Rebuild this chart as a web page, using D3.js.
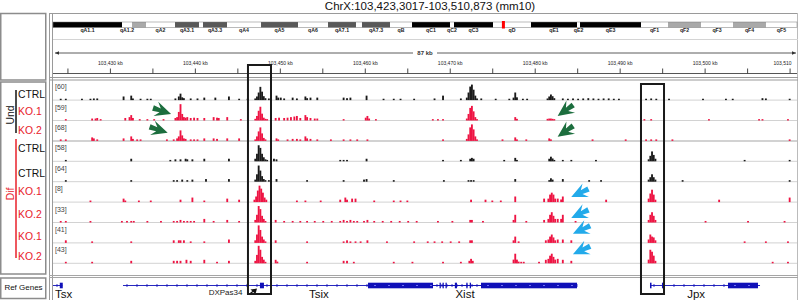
<!DOCTYPE html>
<html><head><meta charset="utf-8">
<script src="https://cdn.jsdelivr.net/npm/d3@7"></script>
<style>body{margin:0;background:#fff}svg{font-family:"Liberation Sans",Arial,sans-serif;display:block}</style>
</head><body><svg id="c" width="800" height="300"></svg>
<script>
// ---------------- DATA ----------------
const title = "ChrX:103,423,3017-103,510,873 (mm10)";
const viewStartKb = 103423.301, viewEndKb = 103510.873;
const spanLabel = "87 kb";
const rulerMajorKb = [103430,103440,103450,103460,103470,103480,103490,103500,103510];
const rulerMinorKb = [103425,103435,103445,103455,103465,103475,103485,103495,103505];

const chromLengthMb = 171.03;
const bandNames  = ["qA1.1","qA1.2","qA1.3","qA2","qA3.1","qA3.2","qA3.3","qA4","qA5","qA6","qA7.1","qA7.2","qA7.3","qB","qC1","qC2","qC3","qD","qE1","qE2","qE3","qF1","qF2","qF3","qF4","qF5"];
const bandStartMb= [0,15.86,18.16,21.38,28.05,33.56,34.48,40.0,47.82,56.32,63.22,69.65,71.03,77.47,82.53,91.26,92.18,101.15,109.88,120.46,121.15,135.17,141.38,148.96,156.32,163.9];
const bandEndMb  = [15.86,18.16,21.38,28.05,33.56,34.48,40.0,47.82,56.32,63.22,69.65,71.03,77.47,82.53,91.26,92.18,101.15,109.88,120.46,121.15,135.17,141.38,148.96,156.32,163.9,171.03];
const bandStain  = ["gpos100","gneg","gpos33","gneg","gpos75","gneg","gpos75","gneg","gpos75","gneg","gpos75","gneg","gpos75","gneg","gpos100","gneg","gpos100","gneg","gpos100","gneg","gpos100","gneg","gpos33","gneg","gpos33","gneg"];
const bandLabeled= [1,1,0,1,1,0,1,1,1,1,1,0,1,1,1,1,1,1,1,1,1,1,1,1,1,1];

const trackNames = ["CTRL","KO.1","KO.2","CTRL","CTRL","KO.1","KO.2","KO.1","KO.2"];
const trackCondition = ["CTRL","KO","KO","CTRL","CTRL","KO","KO","KO","KO"];
const trackMax = [60,59,68,58,64,8,33,41,43];
const groups = [{name:"Und", first:0, last:2, cond:"CTRL"}, {name:"Dif", first:3, last:8, cond:"KO"}];

// signal bins: [position kb, value]
const sigUndCtrl = [[103424.1,3],[103424.7,3],[103426.6,3],[103427.6,3],[103428.0,4],[103428.4,4],[103431.5,11],[103432.4,14],[103432.6,4],[103433.5,3],[103434.3,3],[103434.7,3],[103437.6,4],[103438.0,11],[103438.2,21],[103438.4,8],[103438.6,5],[103439.4,4],[103440.2,4],[103441.0,7],[103442.3,7],[103443.9,11],[103445.1,3],[103446.1,3],
 [103447.0,4],[103447.2,11],[103447.4,25],[103447.6,45],[103447.8,28],[103448.0,12],[103448.2,5],
 [103448.6,4],[103449.5,14],[103449.7,7],[103450.0,7],[103450.4,4],[103451.4,7],[103451.9,4],[103452.9,11],[103453.1,5],[103453.5,7],[103454.3,7],[103457.4,7],[103457.8,5],[103458.2,7],[103460.1,14],[103462.1,3],[103463.3,3],[103464.1,3],[103465.7,3],
 [103468.1,4],[103469.1,14],[103471.2,4],[103471.9,7],[103472.1,25],[103472.3,46],[103472.5,53],[103472.7,35],[103472.9,14],[103473.1,4],[103473.6,4],[103475.3,3],[103476.9,3],
 [103477.4,7],[103477.6,25],[103477.8,8],[103478.5,3],[103479.0,3],[103481.4,4],[103481.6,11],[103481.8,18],[103482.0,12],[103482.2,5],
 [103483.2,4],[103483.8,3],[103484.4,4],[103485.0,3],[103485.6,4],[103486.2,5],[103486.8,4],[103487.4,3],[103488.0,4],[103488.6,4],[103489.2,3],[103489.8,3],
 [103493.0,3],[103493.6,4],[103494.2,3],[103495.7,3],[103499.7,3],[103502.4,3],[103503.2,3],[103506.7,5],[103507.1,4],[103509.9,3]];
const sigUndKo1 = [[103424.7,3],[103427.8,5],[103428.2,5],[103428.4,7],[103428.8,3],[103431.7,7],[103432.2,10],[103432.4,17],[103432.6,7],[103433.4,3],[103434.3,3],[103435.1,3],[103436.2,3],
 [103437.6,7],[103437.8,10],[103438.0,28],[103438.2,55],[103438.4,21],[103438.6,10],[103438.8,8],[103439.0,10],[103439.4,7],[103439.8,8],[103440.2,7],[103441.0,7],[103442.1,10],[103442.5,8],[103442.7,7],[103443.7,10],[103445.3,3],
 [103447.0,4],[103447.2,14],[103447.4,32],[103447.6,46],[103447.8,22],[103448.0,8],[103448.2,4],[103448.4,3],
 [103449.4,7],[103449.8,8],[103450.4,7],[103450.8,8],[103451.2,10],[103451.6,12],[103451.9,14],[103452.3,7],[103452.9,17],[103453.1,10],[103453.5,7],[103454.0,5],[103454.3,5],[103457.4,3],[103460.0,8],[103460.2,14],[103460.4,5],[103461.2,3],
 [103467.9,3],[103468.5,3],[103469.1,3],[103471.9,5],[103472.1,21],[103472.3,42],[103472.5,49],[103472.7,30],[103472.9,10],[103473.1,3],
 [103477.6,10],[103477.8,4],[103481.4,4],[103481.6,5],[103481.8,5],[103482.0,4],[103482.2,3],[103492.8,3],[103493.6,3],[103500.4,3],[103506.3,3],[103506.7,3],[103509.7,3]];
const sigUndKo2 = [[103424.1,4],[103424.7,4],[103427.8,12],[103428.0,8],[103428.4,4],[103431.5,8],[103432.4,16],[103432.6,6],[103433.1,4],[103433.5,4],[103436.6,4],[103437.4,4],[103437.8,8],[103438.0,16],[103438.2,40],[103438.4,20],[103438.6,8],[103438.8,6],[103439.4,4],[103439.8,4],[103440.2,4],[103441.0,8],[103442.1,8],[103442.5,6],[103443.7,8],[103445.1,8],
 [103447.0,4],[103447.2,16],[103447.4,36],[103447.6,52],[103447.8,28],[103448.0,10],[103448.2,4],
 [103449.5,8],[103449.7,4],[103450.8,4],[103451.4,6],[103451.9,6],[103452.3,4],[103452.9,16],[103453.1,8],[103453.5,6],[103454.3,4],[103455.9,4],[103457.4,4],[103458.2,4],[103459.0,4],[103460.2,4],
 [103469.1,4],[103471.9,6],[103472.1,24],[103472.3,52],[103472.5,64],[103472.7,44],[103472.9,16],[103473.1,4],
 [103476.1,4],[103477.6,12],[103477.8,4],[103478.9,4],[103481.6,8],[103481.8,4],[103486.7,4],[103490.6,4],[103493.0,4],[103493.6,4],[103494.2,4],[103496.1,4],[103509.9,4]];
const sigDifCtrlA = [[103424.7,3],[103432.4,7],[103437.0,3],[103437.6,5],[103438.2,5],[103438.8,7],[103439.0,5],[103439.6,5],[103441.0,7],[103443.9,7],
 [103447.0,7],[103447.2,24],[103447.4,53],[103447.6,44],[103447.8,24],[103448.0,12],[103448.2,5],[103448.4,3],
 [103449.2,7],[103449.5,5],[103457.0,3],[103457.4,3],[103457.8,3],[103460.1,7],
 [103469.1,3],[103471.2,3],[103472.3,7],[103472.5,10],[103472.7,7],[103476.3,3],[103477.6,10],[103477.8,3],[103481.6,7],[103481.8,14],[103482.0,8],[103482.2,3],[103483.2,3],[103484.2,3],[103487.1,3],
 [103493.3,5],[103493.5,17],[103493.7,32],[103493.9,20],[103494.1,7],[103504.6,3],[103509.9,3]];
const sigDifCtrlB = [[103424.7,4],[103432.4,4],[103437.4,4],[103437.8,4],[103438.4,6],[103439.0,4],[103439.6,6],[103441.2,8],[103443.9,8],
 [103447.0,6],[103447.2,26],[103447.4,59],[103447.6,40],[103447.8,19],[103448.0,8],[103448.2,4],
 [103448.6,4],[103449.5,8],[103453.1,4],[103457.4,4],[103459.8,6],[103460.1,8],[103463.3,4],
 [103469.2,4],[103472.1,4],[103472.4,4],[103472.7,4],[103477.6,8],[103481.6,4],[103481.8,11],[103482.0,6],[103483.2,8],[103486.3,4],[103487.7,4],
 [103493.3,6],[103493.5,15],[103493.7,26],[103493.9,15],[103494.1,6],[103497.3,4],[103509.9,4]];
const sigDifKo1A = [[103427.6,0.5],[103431.5,1.4],[103431.7,0.5],[103433.3,0.5],[103434.7,0.5],[103438.2,0.9],[103439.6,1.9],[103441.0,0.5],[103443.7,1.4],[103445.1,0.9],
 [103446.9,0.9],[103447.1,2.4],[103447.3,5.2],[103447.5,7.5],[103447.7,6.1],[103447.9,4.2],[103448.1,1.9],[103448.3,0.9],
 [103451.9,0.5],[103452.9,0.5],[103454.7,0.5],[103457.0,0.9],[103457.6,1.9],[103457.8,0.9],[103458.4,1.4],[103458.8,1.4],[103461.0,0.5],[103463.3,0.5],[103464.1,0.5],[103464.9,0.5],
 [103472.4,0.9],[103474.1,0.9],[103474.9,0.5],[103475.9,0.5],[103477.6,2.4],[103481.0,1.4],
 [103481.5,1.4],[103481.7,3.3],[103481.9,4.2],[103482.1,3.3],[103482.3,1.4],[103482.6,1.4],[103483.0,1.0],[103483.2,2.4],[103488.3,0.9],
 [103493.3,1.4],[103493.5,3.8],[103493.7,5.6],[103493.9,3.3],[103494.1,0.9],[103501.6,0.9],[103509.9,1.9]];
const sigDifKo2A = [[103424.1,2],[103424.7,2],[103427.6,2],[103431.3,2],[103431.9,2],[103432.4,2],[103432.7,2],[103434.3,2],[103435.9,2],[103437.4,2],[103437.8,2],[103438.2,4],[103438.6,2],[103439.0,2],[103439.4,2],[103439.8,2],[103441.0,6],[103442.1,2],[103443.7,4],[103445.1,2],
 [103447.0,4],[103447.2,14],[103447.4,31],[103447.6,25],[103447.8,12],[103448.0,6],[103448.2,2],
 [103449.4,4],[103450.4,2],[103451.4,2],[103452.3,2],[103453.1,2],[103454.0,2],[103455.0,2],[103456.0,2],[103457.0,2],[103457.4,4],[103457.8,2],[103458.2,4],[103458.6,2],[103459.0,2],[103459.8,2],[103460.2,4],[103461.0,2],[103462.0,2],[103463.0,2],[103464.0,2],[103465.0,2],[103466.0,2],
 [103468.5,2],[103470.2,2],[103472.3,4],[103472.5,4],[103473.8,2],[103477.4,4],[103477.6,14],[103478.9,2],[103481.0,4],
 [103481.5,6],[103481.7,14],[103481.9,19],[103482.1,12],[103482.3,6],[103482.6,6],[103483.0,6],[103483.2,14],[103484.7,2],
 [103493.3,4],[103493.5,14],[103493.7,19],[103493.9,12],[103494.1,4],[103500.0,2],[103505.0,2],[103509.3,2]];
const sigDifKo1B = [[103424.7,5],[103427.8,2.4],[103432.4,2.4],[103437.4,5],[103438.0,5],[103438.2,5],[103438.6,5],[103439.4,2.4],[103441.0,2.4],[103443.9,7],
 [103447.0,5],[103447.2,19],[103447.4,41],[103447.6,30],[103447.8,14],[103448.0,7],[103448.2,2.4],
 [103449.4,5],[103453.1,2.4],[103457.4,2.4],[103457.8,5],[103458.2,2.4],[103458.8,2.4],[103459.4,2.4],[103460.2,5],[103462.5,2.4],[103465.7,2.4],
 [103467.3,2.4],[103468.1,2.4],[103469.0,2.4],[103470.0,2.4],[103471.0,2.4],[103472.3,5],[103472.5,5],[103477.4,5],[103477.6,14],[103478.0,2.4],
 [103481.2,5],[103481.5,7],[103481.7,14],[103481.9,19],[103482.1,12],[103482.3,5],[103482.6,7],[103483.2,7],[103484.2,5],
 [103493.3,7],[103493.5,19],[103493.7,14],[103493.9,12],[103494.1,5],[103504.6,2.4],[103507.1,2.4],[103509.7,2.4]];
const sigDifKo2B = [[103424.7,2.5],[103427.8,2.5],[103432.4,5],[103437.4,5],[103437.8,5],[103438.2,5],[103438.9,7.6],[103439.4,5],[103441.0,7.6],[103442.5,2.5],[103443.9,5],
 [103447.0,5],[103447.2,20],[103447.4,43],[103447.6,33],[103447.8,15],[103448.0,8],[103448.2,2.5],
 [103449.4,7.6],[103449.6,3],[103453.1,2.5],[103457.4,5],[103457.8,5],[103458.6,2.5],[103463.3,2.5],[103465.5,2.5],
 [103469.1,2.5],[103471.2,2.5],[103472.2,5],[103472.4,10],[103472.6,5],
 [103477.4,8],[103477.6,23],[103477.8,8],[103478.0,3],[103478.3,2.5],[103478.6,2.5],[103480.4,2.5],
 [103481.2,7.6],[103481.5,10],[103481.7,18],[103481.9,23],[103482.1,15],[103482.3,8],[103482.6,10],[103483.2,7.6],[103484.2,5],
 [103493.3,8],[103493.5,33],[103493.7,28],[103493.9,18],[103494.1,5],[103507.9,2.5],[103509.7,2.5]];
const trackSignals = [sigUndCtrl,sigUndKo1,sigUndKo2,sigDifCtrlA,sigDifCtrlB,sigDifKo1A,sigDifKo2A,sigDifKo1B,sigDifKo2B];
const binKb = 0.2;

const highlightKb = [[103446.25,103448.96],[103492.51,103495.22]];

const geneNames  = ["Tsx","Tsix","Xist","Jpx"];
const geneStart  = [103410.0,103431.54,103460.38,103493.57];
const geneEnd    = [103424.4,103484.98,103484.98,103506.52];
const geneExons  = [[[103424.1,103424.45]],
  [[103447.66,103448.13]],
  [[103460.38,103468.03],[103468.8,103468.95],[103469.15,103469.3],[103469.5,103469.65],[103470.6,103470.85],[103471.95,103472.1],[103472.35,103472.5],[103473.68,103484.98]],
  [[103493.57,103493.75],[103494.98,103495.15],[103502.75,103506.28]]];
const geneLabelKb = [null,103454.6,103471.8,103499.0];
const featureLabel = "DXPas34", featureKb = 103445.6;

// annotation arrows: [kb of tip, track index, dy in track, angle deg, kind]
const arrowsAnn = [[103437.2,1,11.5,18,"g"],[103436.8,2,10,18,"g"],[103482.7,1,13.5,145,"g"],[103482.7,2,14,145,"g"],
  [103484.3,5,13,155,"b"],[103484.3,6,13.5,155,"b"],[103484.5,7,9,155,"b"],[103484.5,8,9,155,"b"]];

// ---------------- DRAW ----------------
const svg = d3.select("#c");
const L = 53, R = 797;
const x = d3.scaleLinear().domain([viewStartKb, viewEndKb]).range([L, R]);
const xi = d3.scaleLinear().domain([0, chromLengthMb]).range([L, R]);
const condColor = {CTRL:"#1a1a1a", KO:"#ee1443"};
const labelColor = {CTRL:"#111", KO:"#e8202a"};
const stainColor = {gpos100:"#000", gpos75:"#595959", gpos33:"#a9a9a9", gneg:"#fff"};
const trackTop = i => 82 + i*20.4;
const trackBase = i => trackTop(i) + 17.6;
const trackH = 17;

svg.append("defs").append("clipPath").attr("id","clipMain").append("rect").attr("x",L).attr("y",0).attr("width",R-L).attr("height",300);

// frame
const frame = svg.append("g").attr("fill","none").attr("stroke","#8c8c8c");
frame.append("rect").attr("x",0.75).attr("y",13.5).attr("width",45).attr("height",66.5).attr("stroke-width",1.5);
frame.append("rect").attr("x",0.75).attr("y",82).attr("width",45).attr("height",192).attr("stroke-width",1.5);
frame.append("rect").attr("x",0.75).attr("y",278).attr("width",45).attr("height",20.5).attr("stroke-width",1.5);
[49.5,52.5].forEach(v=>frame.append("line").attr("x1",v).attr("x2",v).attr("y1",13).attr("y2",300).attr("stroke","#9a9a9a"));
frame.append("line").attr("x1",49).attr("x2",798).attr("y1",13.5).attr("y2",13.5).attr("stroke","#9a9a9a");
frame.append("line").attr("x1",797.5).attr("x2",797.5).attr("y1",13).attr("y2",300).attr("stroke","#bbb");
frame.append("line").attr("x1",53).attr("x2",798).attr("y1",39.5).attr("y2",39.5).attr("stroke","#d4d4d4");
[77.5,80].forEach(v=>frame.append("line").attr("x1",49).attr("x2",798).attr("y1",v).attr("y2",v).attr("stroke","#9a9a9a"));
[275.5,277.5].forEach(v=>frame.append("line").attr("x1",49).attr("x2",798).attr("y1",v).attr("y2",v).attr("stroke","#a5a5a5"));

// title
svg.append("text").attr("x",430).attr("y",10).attr("text-anchor","middle").attr("font-size",11.5).attr("fill","#111").text(title);

// ideogram
const ideo = svg.append("g");
bandNames.forEach((n,i)=>{
  ideo.append("rect").attr("x",xi(bandStartMb[i])).attr("y",22).attr("width",xi(bandEndMb[i])-xi(bandStartMb[i])).attr("height",5.5).attr("fill",stainColor[bandStain[i]]);
  if(bandLabeled[i]) ideo.append("text").attr("x",(xi(bandStartMb[i])+xi(bandEndMb[i]))/2).attr("y",31.5).attr("text-anchor","middle").attr("font-size",5.2).attr("font-weight","bold").attr("fill","#222").text(n);
});
ideo.append("rect").attr("x",L).attr("y",22).attr("width",R-L).attr("height",5.5).attr("fill","none").attr("stroke","#777").attr("stroke-width",0.5);
ideo.append("rect").attr("x",xi(viewStartKb/1000)-1).attr("y",21).attr("width",3).attr("height",7.5).attr("fill","#f00");

// span ruler
const sp = svg.append("g").attr("stroke","#333").attr("stroke-width",0.8);
sp.append("line").attr("x1",x(viewStartKb)+2).attr("x2",413).attr("y1",53).attr("y2",53);
sp.append("line").attr("x1",437).attr("x2",x(viewEndKb)-1).attr("y1",53).attr("y2",53);
svg.append("path").attr("d",`M${L+2},53 l4,-1.8 v3.6 z M${R-1},53 l-4,-1.8 v3.6 z`).attr("fill","#333");
svg.append("text").attr("x",425).attr("y",55).attr("text-anchor","middle").attr("font-size",6).attr("font-weight","bold").attr("fill","#333").text(spanLabel);

// axis
const lastTick = rulerMajorKb[rulerMajorKb.length-1];
const gAx = svg.append("g").attr("transform","translate(0,73.5)");
gAx.call(d3.axisTop(x).tickValues(rulerMajorKb).tickSize(5).tickPadding(4)
  .tickFormat(d=> d===lastTick ? d3.format(",")(d) : d3.format(",")(d)+" kb"));
const gAx2 = svg.append("g").attr("transform","translate(0,73.5)");
gAx2.call(d3.axisTop(x).tickValues(rulerMinorKb).tickSize(5).tickFormat(""));
[gAx,gAx2].forEach(g=>{g.select(".domain").attr("stroke","#555").attr("d",`M${L},0H${R}`);g.selectAll(".tick line").attr("stroke","#333").attr("stroke-width",0.9);});
gAx.selectAll(".tick text").attr("font-size",5).attr("fill","#222").attr("font-family","Liberation Sans, Arial, sans-serif")
  .filter(d=>d===lastTick).attr("text-anchor","end").attr("dx",1.5);

// tracks
const gTr = svg.append("g").attr("clip-path","url(#clipMain)");
trackSignals.forEach((sig,i)=>{
  const b = trackBase(i);
  gTr.append("line").attr("x1",L).attr("x2",R).attr("y1",b+0.5).attr("y2",b+0.5).attr("stroke","#d2d2d2").attr("stroke-width",i===2?2:1);
  const y = d3.scaleLinear().domain([0,trackMax[i]]).range([b, b-trackH]);
  gTr.append("g").selectAll("rect").data(sig).join("rect")
    .attr("x",d=>x(d[0])).attr("width",d=>x(d[0]+binKb)-x(d[0])+0.15)
    .attr("y",d=>y(d[1])).attr("height",d=>b-y(d[1])+0.5)
    .attr("fill",condColor[trackCondition[i]]);
  svg.append("text").attr("x",55).attr("y",trackTop(i)+7.2).attr("font-size",7).attr("fill","#444").text(`[${trackMax[i]}]`);
});

// track name labels
const nameY = [97.5,114.5,133.5,151.5,177,195,217.5,240,259.5];
trackNames.forEach((n,i)=>svg.append("text").attr("x",18).attr("y",nameY[i]).attr("font-size",10.4).attr("fill",labelColor[trackCondition[i]]).text(n));
const groupSpan = [[90,133],[139,258]], groupCY = [115,194];
groups.forEach((g,k)=>{
  svg.append("line").attr("x1",16).attr("x2",16).attr("y1",groupSpan[k][0]).attr("y2",groupSpan[k][1]).attr("stroke",labelColor[g.cond]).attr("stroke-width",1.5);
  svg.append("text").attr("transform",`translate(14,${groupCY[k]}) rotate(-90)`).attr("text-anchor","middle").attr("font-size",10.4).attr("fill",labelColor[g.cond]).text(g.name);
});

// genes
svg.append("text").attr("x",23.5).attr("y",290).attr("text-anchor","middle").attr("font-size",8).attr("fill","#111").text("Ref Genes");
const gG = svg.append("g").attr("clip-path","url(#clipMain)");
const gy = 285.5, blue = "#1010b8";
geneNames.forEach((n,i)=>{
  const x1 = x(geneStart[i]), x2 = x(geneEnd[i]);
  gG.append("line").attr("x1",x1).attr("x2",x2).attr("y1",gy).attr("y2",gy).attr("stroke",blue).attr("stroke-width",0.9);
  d3.range(Math.max(x1,L)+4, x2, 10).forEach(t=>gG.append("line").attr("x1",t).attr("x2",t).attr("y1",gy-1.5).attr("y2",gy+1.5).attr("stroke",blue).attr("stroke-width",0.8));
  geneExons[i].forEach(e=>gG.append("rect").attr("x",x(e[0])).attr("y",gy-2.8).attr("width",Math.max(1.2,x(e[1])-x(e[0]))).attr("height",5.6).attr("fill",blue));
  geneExons[i].forEach(e=>{ if(x(e[1])-x(e[0])>20) d3.range(x(e[0])+6, x(e[1])-2, 14).forEach(t=>gG.append("line").attr("x1",t).attr("x2",t+2).attr("y1",gy).attr("y2",gy).attr("stroke","#8888ff").attr("stroke-width",0.8)); });
  const lx = geneLabelKb[i]===null ? L+2 : x(geneLabelKb[i]);
  svg.append("text").attr("x",lx).attr("y",297.5).attr("text-anchor",geneLabelKb[i]===null?"start":"middle").attr("font-size",11.5).attr("fill","#111").text(n);
});
svg.append("text").attr("x",x(featureKb)).attr("y",295).attr("text-anchor","end").attr("font-size",8).attr("fill","#222").text(featureLabel);
svg.append("path").attr("d","M249,294.5 L253.5,291").attr("stroke","#111").attr("stroke-width",1.2);
svg.append("path").attr("d","M257,288.5 L250.5,289.5 L255.5,294 Z").attr("fill","#111");

// highlight boxes
const boxY = [[65,294],[84,294]];
highlightKb.forEach((h,k)=>svg.append("rect").attr("x",x(h[0])).attr("y",boxY[k][0]).attr("width",x(h[1])-x(h[0])).attr("height",boxY[k][1]-boxY[k][0]).attr("fill","none").attr("stroke","#1a1a1a").attr("stroke-width",2));

// arrows
const arrowPath = "M0,0 L-16,-7.5 L-11.5,-2 L-19,-2.8 L-19,2.8 L-11.5,2 L-16,7.5 Z";
const arrowColor = {g:"#1c6e3e", b:"#22aaea"};
arrowsAnn.forEach(a=>svg.append("path").attr("d",arrowPath).attr("fill",arrowColor[a[4]])
  .attr("transform",`translate(${x(a[0])},${trackTop(a[1])+a[2]}) rotate(${a[3]})`));
</script></body></html>
